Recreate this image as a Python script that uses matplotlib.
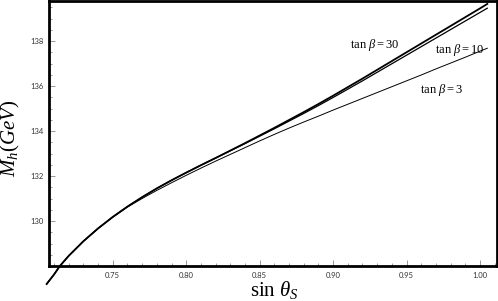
import matplotlib
matplotlib.use("Agg")
import matplotlib.pyplot as plt
from matplotlib.ticker import MultipleLocator

plt.rcParams['mathtext.fontset'] = 'custom'
plt.rcParams['mathtext.rm'] = 'Liberation Serif'
plt.rcParams['mathtext.it'] = 'Liberation Serif:italic'
plt.rcParams['mathtext.bf'] = 'Liberation Serif:bold'

# data
sin_theta = [0.705, 0.710, 0.714, 0.720, 0.730, 0.740, 0.750, 0.760, 0.770,
             0.780, 0.790, 0.800, 0.810, 0.820, 0.830, 0.840, 0.850, 0.860,
             0.870, 0.880, 0.890, 0.900, 0.910, 0.920, 0.930, 0.940, 0.950,
             0.960, 0.970, 0.980, 0.990, 1.000, 1.005]
mh_tb10 = [127.20, 127.62, 128.00, 128.45, 129.10, 129.67, 130.18, 130.64, 131.06,
           131.45, 131.81, 132.15, 132.48, 132.80, 133.12, 133.44, 133.77, 134.10,
           134.44, 134.78, 135.13, 135.49, 135.86, 136.23, 136.61, 136.99, 137.37,
           137.75, 138.13, 138.51, 138.89, 139.27, 139.46]
mh_tb30 = [127.20, 127.62, 128.00, 128.45, 129.10, 129.67, 130.18, 130.64, 131.06,
           131.45, 131.81, 132.15, 132.48, 132.80, 133.13, 133.46, 133.80, 134.14,
           134.49, 134.84, 135.20, 135.57, 135.95, 136.33, 136.72, 137.11, 137.50,
           137.89, 138.28, 138.67, 139.06, 139.45, 139.65]
mh_tb3 = [127.20, 127.62, 128.00, 128.45, 129.10, 129.67, 130.17, 130.62, 131.00,
          131.36, 131.70, 132.03, 132.35, 132.66, 132.96, 133.26, 133.56, 133.85,
          134.13, 134.40, 134.66, 134.93, 135.19, 135.45, 135.71, 135.97, 136.23,
          136.49, 136.76, 137.02, 137.28, 137.55, 137.68]

labels = [r'$\tan\,\beta = 30$', r'$\tan\,\beta = 10$', r'$\tan\,\beta = 3$']
xticks = [0.75, 0.80, 0.85, 0.90, 0.95, 1.00]
yticks = [130, 132, 134, 136, 138]

fig = plt.figure(figsize=(4.98, 3.01), dpi=100)
ax = fig.add_axes([49/498, 35/301, 448/498, 265/301])

ax.plot(sin_theta, mh_tb30, color='black', lw=1.3, clip_on=False)
ax.plot(sin_theta, mh_tb10, color='black', lw=0.9, clip_on=False)
ax.plot(sin_theta, mh_tb3, color='black', lw=0.7, clip_on=False)

ax.set_xlim(0.7066, 1.0116)
ax.set_ylim(128.0, 139.78)

ax.set_xticks(xticks)
ax.set_xticklabels([f'{v:.2f}' for v in xticks])
ax.set_yticks(yticks)
ax.set_yticklabels([str(v) for v in yticks])
ax.xaxis.set_minor_locator(MultipleLocator(0.01))
ax.yaxis.set_minor_locator(MultipleLocator(0.5))
ax.tick_params(which='both', direction='in', color='#888888', width=0.6,
               top=False, right=False)
ax.tick_params(which='major', length=4, labelsize=5.5, labelcolor='#333333', pad=4)
ax.tick_params(which='minor', length=2)
for lab in ax.get_xticklabels() + ax.get_yticklabels():
    lab.set_family('Lato')

for s in ax.spines.values():
    s.set_linewidth(2.0)
    s.set_color('black')

ax.text(0.928, 137.82, labels[0], fontsize=9, ha='center', va='center')
ax.text(0.986, 137.6, labels[1], fontsize=9, ha='center', va='center')
ax.text(0.9737, 135.82, labels[2], fontsize=9, ha='center', va='center')

fig.text(274/498, 1 - 290/301, r'$\sin\,\theta_S$', fontsize=15, ha='center', va='center')
fig.text(10/498, 1 - 138/301, r'$M_h(GeV)$', fontsize=15, rotation=90,
         ha='center', va='center')

fig.savefig('out.png', dpi=100)
